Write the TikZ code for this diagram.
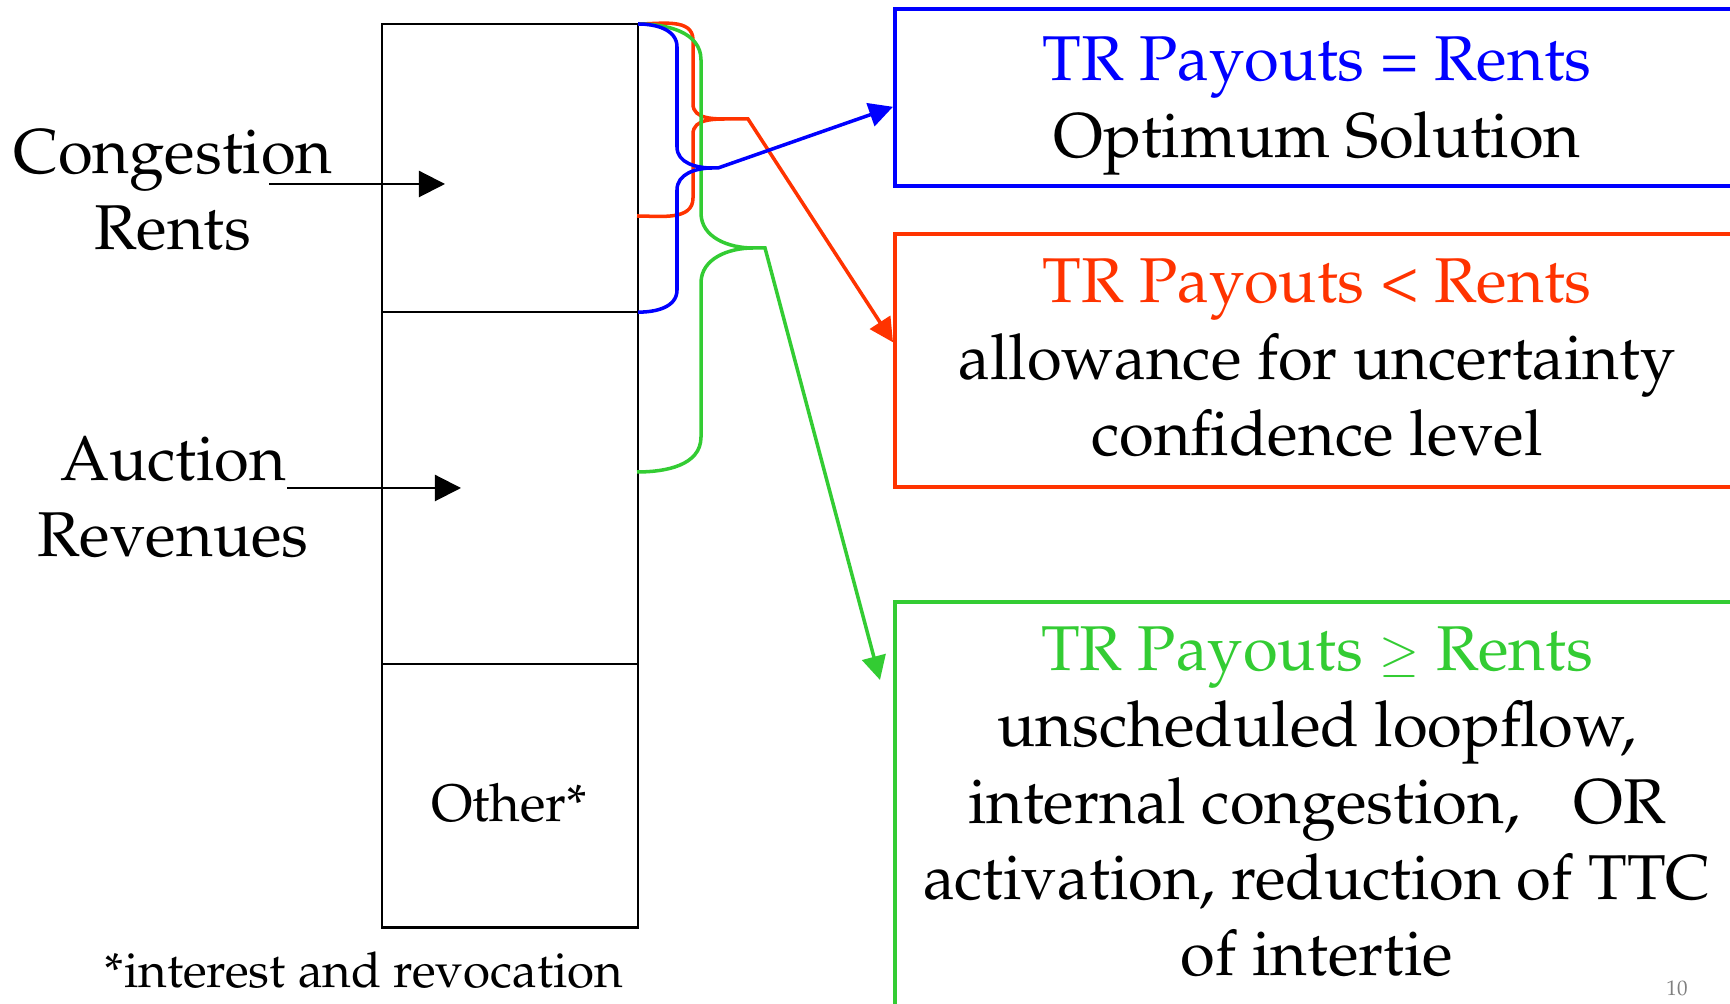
\documentclass[tikz,border=0pt]{standalone}
\usepackage[T1]{fontenc}
\usepackage{mathpazo}
\usepackage{tikz}
\usetikzlibrary{positioning,calc,arrows.meta}

\definecolor{trblue}{RGB}{0,0,255}
\definecolor{trred}{RGB}{255,51,0}
\definecolor{trgreen}{RGB}{51,204,51}

\begin{document}
\begin{tikzpicture}[x=0.01cm,y=-0.01cm,
seg/.style={rectangle,draw,line width=0.6pt,minimum width=2.56cm,inner sep=0pt,outer sep=0pt},
lbl/.style={align=center,font=\fontsize{18}{21.7}\selectfont},
outbox/.style={rectangle,draw,line width=1pt,minimum width=8.48cm,inner sep=0pt,anchor=north west},
inflow/.style={->,-{Triangle[length=7.4pt,width=7.4pt]},line width=0.6pt},
payout/.style={->,-{Triangle[length=6.8pt,width=6.8pt]},line width=1pt},
brace/.style={line width=1pt}]

\useasboundingbox (0,0) rectangle (1730,1004);
\clip (0,0) rectangle (1730,1004);

% column
\node[seg,minimum height=2.88cm,anchor=north west] (rents) at (382,24) {};
\node[seg,minimum height=3.52cm,below=0 of rents] (auction) {};
\node[seg,minimum height=2.63cm,below=0 of auction] (other) {};
\node[font=\fontsize{15}{18}\selectfont] (othertxt) at (509,803) {Other*};

% left labels
\node[lbl] (conglbl) at (173,190) {Congestion\\Rents};
\node[lbl] (auclbl) at (173,497) {Auction\\Revenues};
\coordinate (congout) at (269,184);
\coordinate (congin) at (445,184);
\coordinate (aucout) at (287,488);
\coordinate (aucin) at (461,488);

% boxes
\node[outbox,draw=trblue,minimum height=1.77cm] (bluebox) at (893,7) {};
\node[outbox,draw=trred,minimum height=2.53cm] (redbox) at (893,232) {};
\node[outbox,draw=trgreen,minimum height=4.5cm] (greenbox) at (893,600) {};

% box texts
\node[lbl] (bluetxt) at (1317,106) {\textcolor{trblue}{TR Payouts = Rents}\\Optimum Solution};
\node[lbl] (redtxt) at (1317,358) {\textcolor{trred}{TR Payouts \textless{} Rents}\\allowance for uncertainty\\confidence level};
\node[lbl] (greentxt) at (1317,802) {\textcolor{trgreen}{TR Payouts {\fontsize{14}{14}\selectfont$\geq$} Rents}\\unscheduled loopflow,\\internal congestion,\hspace{0.85em}OR\\activation, reduction of TTC\\of intertie};

% footnote
\node[font=\fontsize{14}{17}\selectfont,anchor=base,inner sep=0pt] (note) at (364,988) {*interest and revocation};
\node[font=\fontsize{6}{7}\selectfont,text=gray,anchor=base] (pagenum) at (1677,996) {10};

% braces
\draw[brace,trred] (rents.north east) to[out=0,in=90] (693,40) -- (693,104)
  to[out=-90,in=180] (730,119) coordinate (redtip)
  to[out=180,in=90] (693,134) -- (693,198) to[out=-90,in=0] (637,216);
\draw[brace,trgreen] (rents.north east) to[out=0,in=90] (701,60) -- (701,213)
  to[out=-90,in=180] (753,248) coordinate (greentip)
  to[out=180,in=90] (701,283) -- (701,437) to[out=-90,in=0] (637,472);
\draw[brace,trblue] (rents.north east) to[out=0,in=90] (677,47) -- (677,147)
  to[out=-90,in=180] (712,168) coordinate (bluetip)
  to[out=180,in=90] (677,190) -- (677,290) to[out=-90,in=0] (rents.south east);

% arrows
\coordinate (bluein) at ($(bluebox.west)+(0,9.5)$);
\coordinate (redin) at ($(redbox.west)+(0,-18)$);
\coordinate (greenend) at (880,680);
\draw[inflow] (congout) -- (congin);
\draw[inflow] (aucout) -- (aucin);
\draw[payout,trred] (redtip) -- ++(18,0) -- (redin);
\draw[payout,trgreen] (greentip) -- ++(12,0) -- (greenend);
\draw[payout,trblue] (bluetip) -- ++(6,0) -- (bluein);
\end{tikzpicture}
\end{document}
